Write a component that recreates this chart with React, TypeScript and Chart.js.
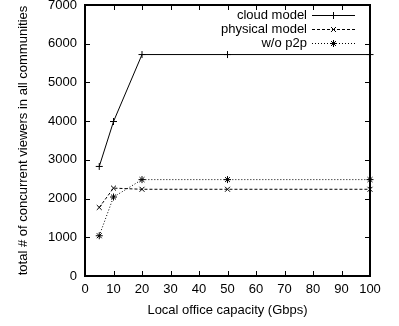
import React, { useEffect, useRef } from "react";
import { Chart, registerables } from "chart.js";

Chart.register(...registerables);

const capacities = [5, 10, 20, 50, 100];
const cloudModel = [2830, 3990, 5720, 5720, 5720];
const physicalModel = [1770, 2270, 2240, 2240, 2240];
const withoutP2p = [1040, 2040, 2490, 2490, 2490];
const seriesLabels = ["cloud model", "physical model", "w/o p2p"];
const seriesMarkers = ["cross", "crossRot", "star"];
const seriesDashes: number[][] = [[], [3, 2], [1, 2]];

const FONT = '"Liberation Sans", Arial, Helvetica, sans-serif';

function drawMarker(ctx: CanvasRenderingContext2D, style: string, cx: number, cy: number, r: number) {
  ctx.beginPath();
  const plus = () => {
    ctx.moveTo(cx - r, cy);
    ctx.lineTo(cx + r, cy);
    ctx.moveTo(cx, cy - r);
    ctx.lineTo(cx, cy + r);
  };
  const cross = () => {
    const d = r * Math.SQRT1_2;
    ctx.moveTo(cx - d, cy - d);
    ctx.lineTo(cx + d, cy + d);
    ctx.moveTo(cx - d, cy + d);
    ctx.lineTo(cx + d, cy - d);
  };
  if (style === "cross") plus();
  else if (style === "crossRot") cross();
  else {
    plus();
    cross();
  }
  ctx.stroke();
}

const framePlugin = {
  id: "gnuplotFrame",
  afterDraw(chart: any) {
    const { ctx, chartArea } = chart;
    const { left, right, top, bottom } = chartArea;
    const xs = chart.scales.x;
    const ys = chart.scales.y;
    ctx.save();
    ctx.strokeStyle = "#000";
    ctx.setLineDash([]);
    ctx.lineWidth = 1;
    const tl = 5;
    ctx.beginPath();
    xs.ticks.forEach((t: any) => {
      const px = Math.round(xs.getPixelForValue(t.value)) + 0.5;
      ctx.moveTo(px, bottom);
      ctx.lineTo(px, bottom - tl);
      ctx.moveTo(px, top);
      ctx.lineTo(px, top + tl);
    });
    ys.ticks.forEach((t: any) => {
      const py = Math.round(ys.getPixelForValue(t.value)) + 0.5;
      ctx.moveTo(left, py);
      ctx.lineTo(left + tl, py);
      ctx.moveTo(right, py);
      ctx.lineTo(right - tl, py);
    });
    ctx.stroke();
    ctx.lineWidth = 2;
    ctx.strokeRect(left, top, right - left, bottom - top);

    // legend
    ctx.font = `13px ${FONT}`;
    ctx.fillStyle = "#000";
    ctx.textAlign = "right";
    ctx.textBaseline = "middle";
    ctx.lineWidth = 1;
    const textRight = 307;
    const sx0 = 312;
    const sx1 = 355;
    const rows = [15, 29, 43];
    seriesLabels.forEach((lab, i) => {
      const y = rows[i];
      ctx.fillText(lab, textRight, y);
      ctx.setLineDash(seriesDashes[i]);
      ctx.beginPath();
      ctx.moveTo(sx0, y + 0.5);
      ctx.lineTo(sx1, y + 0.5);
      ctx.stroke();
      ctx.setLineDash([]);
      drawMarker(ctx, seriesMarkers[i], (sx0 + sx1) / 2, y + 0.5, 3.5);
    });
    ctx.restore();
  },
};

export default function App() {
  const ref = useRef<HTMLCanvasElement | null>(null);
  useEffect(() => {
    if (!ref.current) return;
    const series = [cloudModel, physicalModel, withoutP2p];
    const chart = new Chart(ref.current, {
      type: "line",
      data: {
        datasets: series.map((vals, i) => ({
          label: seriesLabels[i],
          data: capacities.map((c, j) => ({ x: c, y: vals[j] })),
          borderColor: "#000",
          borderWidth: 1,
          borderDash: seriesDashes[i],
          pointStyle: seriesMarkers[i] as any,
          pointRadius: 3.5,
          pointBorderWidth: 1,
          pointBorderColor: "#000",
          pointBackgroundColor: "#000",
          fill: false,
          tension: 0,
          clip: false as any,
        })),
      },
      options: {
        animation: false,
        responsive: false,
        devicePixelRatio: 1,
        layout: { padding: { top: 4, right: 29, left: 0, bottom: 0 } },
        plugins: { legend: { display: false }, tooltip: { enabled: false } },
        scales: {
          x: {
            type: "linear",
            min: 0,
            max: 100,
            grid: { display: false, drawTicks: false },
            border: { display: false },
            ticks: {
              stepSize: 10,
              padding: 6,
              color: "#000",
              font: { family: FONT, size: 13 },
              maxRotation: 0,
              autoSkip: false,
              callback: (v: any) => String(v),
            },
            title: {
              display: true,
              text: "Local office capacity (Gbps)",
              color: "#000",
              font: { family: FONT, size: 13 },
              padding: { top: 0, bottom: 8 },
            },
            afterFit(s: any) {
              s.height = 50;
              s.paddingLeft = 0;
              s.paddingRight = 0;
            },
          },
          y: {
            type: "linear",
            min: 0,
            max: 7000,
            grid: { display: false, drawTicks: false },
            border: { display: false },
            ticks: {
              stepSize: 1000,
              padding: 8,
              color: "#000",
              font: { family: FONT, size: 13 },
              callback: (v: any) => String(v),
            },
            title: {
              display: true,
              text: "total # of concurrent viewers in all communities",
              color: "#000",
              font: { family: FONT, size: 13 },
              padding: { top: 16, bottom: 0 },
            },
            afterFit(s: any) {
              s.width = 85;
              s.paddingTop = 0;
              s.paddingBottom = 0;
            },
          },
        },
      },
      plugins: [framePlugin],
    });
    return () => chart.destroy();
  }, []);
  return (
    <div style={{ position: "absolute", left: 0, top: 0, width: 399, height: 326, background: "#fff" }}>
      <canvas ref={ref} width={399} height={326} style={{ display: "block" }} />
    </div>
  );
}
